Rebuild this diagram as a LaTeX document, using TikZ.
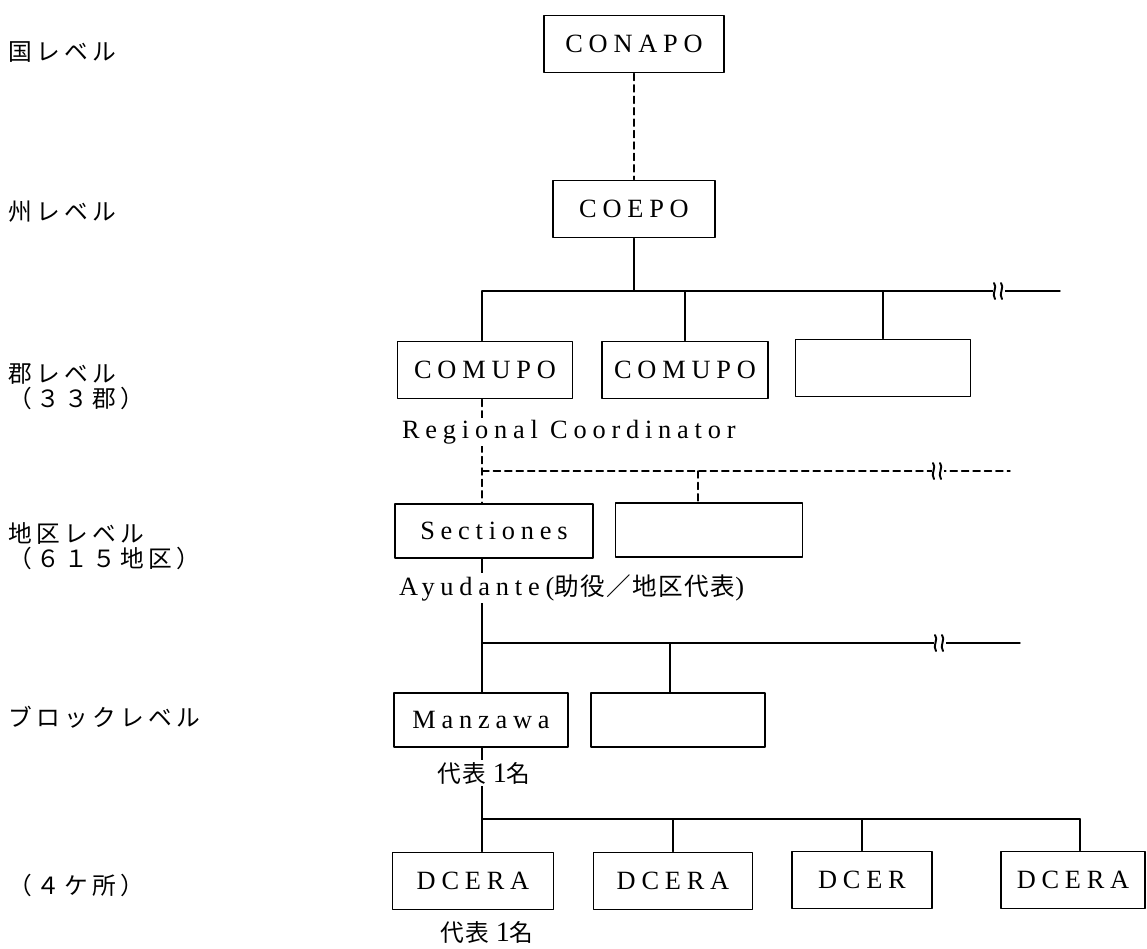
\documentclass[tikz,border=0pt]{standalone}
\usepackage{fontspec}
\setmainfont{Liberation Serif}[LetterSpace=22]
\newfontfamily\jp{Noto Sans CJK JP}[LetterSpace=18]
\newfontfamily\jpn{Noto Sans CJK JP}[LetterSpace=6]
\usetikzlibrary{positioning}
\tikzset{
	orgbox/.style={draw,line width=1.1pt,minimum height=1.14cm,inner sep=0pt,font=\fontsize{15}{17}\selectfont},
	lvl/.style={anchor=west,align=left,inner sep=0pt,font=\jp\fontsize{13.5}{14}\selectfont},
	note/.style={fill=white,inner sep=1pt,font=\fontsize{15}{17}\selectfont},
	link/.style={line width=0.8pt},
	dashlink/.style={line width=0.8pt,dash pattern=on 4pt off 2.5pt},
	brk/.pic={
		\fill[white] (-6,-3) rectangle (6,3);
		\draw[line width=1.1pt] (-5,-8) .. controls (-1,-4) and (-8,3) .. (-4,8);
		\draw[line width=1.1pt] (2,-8) .. controls (6,-4) and (-1,3) .. (3,8);
	}
}
\begin{document}
\begin{tikzpicture}[x=0.02cm,y=-0.02cm,line cap=round,line join=round]
	\useasboundingbox (0,0) rectangle (1147,948);
	\node[lvl] (lvKuni) at (8,52) {国レベル};
	\node[lvl] (lvShu) at (8,212) {州レベル};
	\node[lvl] (lvGun) at (8,387) {郡レベル\\（３３郡）};
	\node[lvl] (lvChiku) at (8,546) {地区レベル\\（６１５地区）};
	\node[lvl] (lvBlock) at (8,717) {ブロックレベル};
	\node[lvl] (lvKasho) at (8,885) {（４ケ所）};
	\node[orgbox,minimum width=3.6cm] (conapo) at (634,44) {CONAPO};
	\node[orgbox,minimum width=3.24cm] (coepo) at (634,209) {COEPO};
	\node[orgbox,minimum width=3.5cm] (comupoA) at (485,370) {COMUPO};
	\node[orgbox,minimum width=3.32cm] (comupoB) at (685,370) {COMUPO};
	\node[orgbox,minimum width=3.5cm] (gunC) at (883,368) {};
	\node[orgbox,minimum width=3.96cm,minimum height=1.08cm] (sect) at (494,531) {Sectiones};
	\node[orgbox,minimum width=3.74cm,minimum height=1.08cm] (chikuB) at (709,530) {};
	\node[orgbox,minimum width=3.48cm,minimum height=1.08cm] (manz) at (481,720) {Manzawa};
	\node[orgbox,minimum width=3.48cm,minimum height=1.08cm] (blockB) at (678,720) {};
	\node[orgbox,minimum width=3.22cm] (dcA) at (473,881) {DCERA};
	\node[orgbox,minimum width=3.18cm] (dcB) at (673,881) {DCERA};
	\node[orgbox,minimum width=2.8cm] (dcC) at (862,880) {DCER};
	\node[orgbox,minimum width=2.88cm] (dcD) at (1073,880) {DCERA};
	\coordinate (b1L) at (482,291);
	\coordinate (b1R) at (1060,291);
	\coordinate (b1K) at (999,291);
	\coordinate (b2L) at (482,471);
	\coordinate (b2R) at (1010,471);
	\coordinate (b2K) at (938,471);
	\coordinate (d2) at (698,471);
	\coordinate (b3L) at (482,643);
	\coordinate (b3R) at (1020,643);
	\coordinate (b3K) at (940,643);
	\coordinate (d3) at (670,643);
	\coordinate (b4L) at (482,819);
	\coordinate (b4R) at (1080,819);
	\draw[dashlink] (conapo.south) -- (coepo.north);
	\draw[link] (coepo.south) -- (coepo.south |- b1L);
	\draw[link] (b1L) -- (b1R);
	\pic at (b1K) {brk};
	\draw[link] (b1L) -- (b1L |- comupoA.north);
	\draw[link] (comupoB.north |- b1L) -- (comupoB.north);
	\draw[link] (gunC.north |- b1L) -- (gunC.north);
	\draw[dashlink] (comupoA.south -| b2L) -- (sect.north -| b2L);
	\draw[dashlink] (b2L) -- (b2R);
	\pic at (b2K) {brk};
	\draw[dashlink] (d2) -- (d2 |- chikuB.north);
	\draw[link] (sect.south -| b3L) -- (manz.north -| b3L);
	\draw[link] (b3L) -- (b3R);
	\pic at (b3K) {brk};
	\draw[link] (d3) -- (d3 |- blockB.north);
	\draw[link] (manz.south -| b4L) -- (dcA.north -| b4L);
	\draw[link] (b4L) -- (b4R);
	\draw[link] (dcB.north |- b4L) -- (dcB.north);
	\draw[link] (dcC.north |- b4L) -- (dcC.north);
	\draw[link] (b4R) -- (b4R |- dcD.north);
	\node[note,anchor=west] (regco) at (400,432) {Regional Coordinator};
	\node[note,anchor=west] (ayud) at (397,588) {Ayudante({\jpn\fontsize{14}{16}\selectfont 助役／地区代表})};
	\node[note,font=\jpn\fontsize{13.5}{15}\selectfont] (repM) at (484,773) {代表 {\rmfamily\fontsize{16}{16}\selectfont 1}名};
	\node[note,font=\jpn\fontsize{13.5}{15}\selectfont] (repD) at (487,932) {代表 {\rmfamily\fontsize{16}{16}\selectfont 1}名};
\end{tikzpicture}
\end{document}
